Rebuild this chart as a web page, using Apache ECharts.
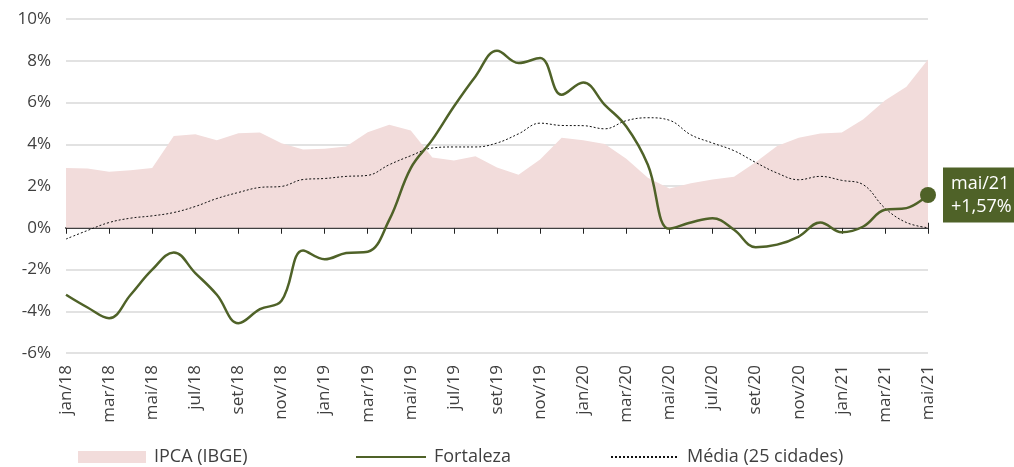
<!DOCTYPE html>
<html>
<head>
<meta charset="utf-8">
<script src="https://cdn.jsdelivr.net/npm/echarts@6/dist/echarts.min.js"></script>
<style>
  html, body { margin: 0; padding: 0; background: #fff; }
  #chart { width: 1014px; height: 467px; }
</style>
</head>
<body>
<div id="chart"></div>
<script>
const months = [
  'jan/18', 'fev/18', 'mar/18', 'abr/18', 'mai/18', 'jun/18', 'jul/18', 'ago/18', 'set/18', 'out/18', 'nov/18', 'dez/18',
  'jan/19', 'fev/19', 'mar/19', 'abr/19', 'mai/19', 'jun/19', 'jul/19', 'ago/19', 'set/19', 'out/19', 'nov/19', 'dez/19',
  'jan/20', 'fev/20', 'mar/20', 'abr/20', 'mai/20', 'jun/20', 'jul/20', 'ago/20', 'set/20', 'out/20', 'nov/20', 'dez/20',
  'jan/21', 'fev/21', 'mar/21', 'abr/21', 'mai/21'
]

const ipca = [
  2.86, 2.84, 2.68, 2.76, 2.86, 4.39, 4.48, 4.19, 4.53, 4.56, 4.05, 3.75,
  3.78, 3.89, 4.58, 4.94, 4.66, 3.37, 3.22, 3.43, 2.89, 2.54, 3.27, 4.31,
  4.19, 4.01, 3.30, 2.40, 1.88, 2.13, 2.31, 2.44, 3.14, 3.92, 4.31, 4.52,
  4.56, 5.20, 6.10, 6.76, 8.06
]

const fortaleza = [
  -3.21, -3.82, -4.33, -3.21, -2.01, -1.18, -2.17, -3.21, -4.57, -3.90, -3.50, -1.09,
  -1.51, -1.21, -1.15, 0.38, 2.86, 4.22, 5.81, 7.25, 8.48, 7.89, 8.13, 6.37,
  6.96, 5.89, 4.85, 3.02, -0.05, 0.25, 0.46, -0.10, -0.93, -0.81, -0.42, 0.25,
  -0.22, 0.06, 0.86, 0.94, 1.57
]

const media = [
  -0.54, -0.13, 0.25, 0.46, 0.57, 0.73, 1.02, 1.40, 1.69, 1.93, 1.98, 2.31,
  2.36, 2.46, 2.51, 3.02, 3.45, 3.82, 3.87, 3.87, 4.06, 4.50, 5.01, 4.90,
  4.89, 4.74, 5.13, 5.27, 5.15, 4.45, 4.06, 3.69, 3.13, 2.62, 2.30, 2.46,
  2.27, 2.06, 0.94, 0.25, 0.0
]

const GREEN = '#4f6228'
const PINK = '#f2dcdb'
const TEXT = '#3f3f3f'
const FONT = 'Open Sans'

const chart = echarts.init(document.getElementById('chart'))

const last = fortaleza.length - 1
const fortalezaData = fortaleza.map((v, i) => {
  if (i !== last) return v
  return {
    value: v,
    symbol: 'circle',
    symbolSize: 16,
    label: {
      show: true,
      position: 'right',
      distance: 7,
      formatter: () => months[last] + '\n+' + v.toFixed(2).replace('.', ',') + '%',
      backgroundColor: GREEN,
      color: '#fff',
      fontFamily: FONT,
      fontSize: 18,
      lineHeight: 23,
      padding: [5, 6, 4, 8],
    },
  }
})

const gridBox = { left: 66, right: 86, top: 19, bottom: 114 }

const legendBase = {
  top: 448,
  padding: 0,
  itemWidth: 68,
  itemHeight: 12,
  textStyle: { fontSize: 18, color: TEXT, fontFamily: FONT, padding: [0, 0, 0, 3] },
}

chart.setOption({
  animation: false,
  backgroundColor: '#fff',
  textStyle: { fontFamily: FONT },
  grid: [
    { ...gridBox },
    { ...gridBox },
  ],
  legend: [
    { ...legendBase, left: 78, data: [{ name: 'IPCA (IBGE)', icon: 'rect' }] },
    { ...legendBase, left: 355, itemWidth: 70, data: [{ name: 'Fortaleza', itemStyle: { opacity: 0 } }] },
    { ...legendBase, left: 610, data: [{ name: 'Média (25 cidades)', itemStyle: { opacity: 0 } }] },
  ],
  xAxis: [
    {
      // labels at the bottom
      gridIndex: 0,
      type: 'category',
      position: 'bottom',
      data: months,
      boundaryGap: false,
      axisLine: { show: false, onZero: false },
      axisTick: { show: false },
      axisLabel: {
        interval: 1,
        rotate: 90,
        margin: 12,
        fontSize: 17,
        color: TEXT,
        fontFamily: FONT,
      },
      splitLine: { show: false },
    },
    {
      // zero line, ticks going up
      gridIndex: 0,
      type: 'category',
      position: 'top',
      data: months,
      boundaryGap: false,
      axisLine: { show: true, onZero: true, lineStyle: { color: '#404040', width: 2 } },
      axisTick: { show: true, interval: 1, length: 5, lineStyle: { color: '#222', width: 1 } },
      axisLabel: { show: false },
      splitLine: { show: false },
    },
    {
      // ticks going down
      gridIndex: 1,
      type: 'category',
      position: 'bottom',
      data: months,
      boundaryGap: false,
      axisLine: { show: false, onZero: true },
      axisTick: { show: true, interval: 1, length: 6, lineStyle: { color: '#222', width: 1 } },
      axisLabel: { show: false },
      splitLine: { show: false },
    },
  ],
  yAxis: [
    {
      gridIndex: 0,
      type: 'value',
      min: -6,
      max: 10,
      interval: 2,
      axisLine: { show: false },
      axisTick: { show: false },
      axisLabel: {
        formatter: '{value}%',
        fontSize: 17,
        color: TEXT,
        margin: 15,
        fontFamily: FONT,
      },
      splitLine: { lineStyle: { color: '#d9d9d9', width: 1.5 } },
    },
    {
      gridIndex: 1,
      type: 'value',
      min: -6,
      max: 10,
      interval: 2,
      show: false,
    },
  ],
  series: [
    {
      name: 'IPCA (IBGE)',
      type: 'line',
      xAxisIndex: 0,
      yAxisIndex: 0,
      data: ipca,
      symbol: 'none',
      itemStyle: { color: PINK },
      lineStyle: { width: 0, color: PINK },
      areaStyle: { color: PINK, opacity: 1 },
      z: 1,
    },
    {
      name: 'Média (25 cidades)',
      type: 'line',
      xAxisIndex: 0,
      yAxisIndex: 0,
      data: media,
      smooth: 0.4,
      symbol: 'none',
      itemStyle: { color: '#000' },
      lineStyle: { color: '#111', width: 1, type: [2, 2] },
      z: 3,
    },
    {
      name: 'Fortaleza',
      type: 'line',
      xAxisIndex: 0,
      yAxisIndex: 0,
      data: fortalezaData,
      smooth: 0.4,
      symbol: 'none',
      showSymbol: true,
      itemStyle: { color: GREEN },
      lineStyle: { color: GREEN, width: 2.5 },
      z: 4,
    },
  ],
})

window.addEventListener('resize', () => chart.resize())
</script>
</body>
</html>
